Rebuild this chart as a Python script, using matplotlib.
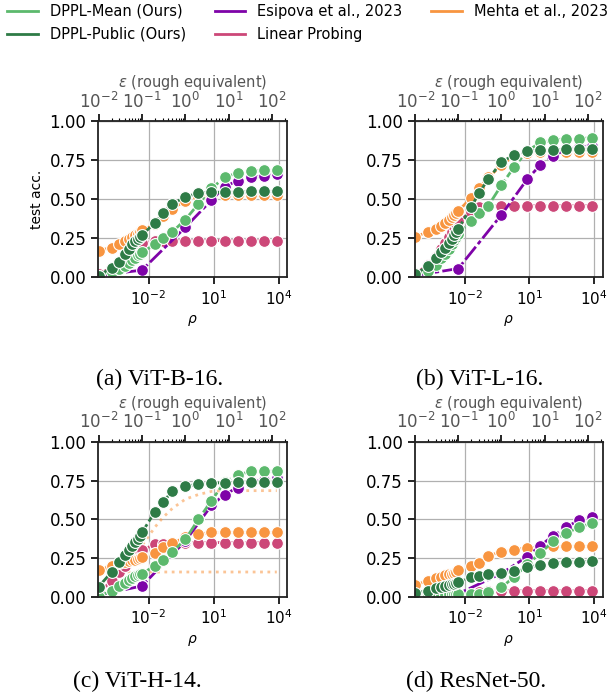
import numpy as np
import matplotlib
matplotlib.use("Agg")
import matplotlib.pyplot as plt
from matplotlib.lines import Line2D
from matplotlib.ticker import NullLocator, FixedLocator, LogLocator, LogFormatterSciNotation

# rho grid shared by most methods
rho = [5e-5, 2e-4, 4.5e-4, 8e-4, 1.25e-3, 1.8e-3, 2.45e-3, 3.2e-3, 4.05e-3, 5e-3,
       0.02, 0.045, 0.125, 0.5, 2, 8, 32, 128, 512, 2048, 8192]
# sparser grid for Esipova et al.
rho_esipova = [5e-5, 5e-3, 0.5, 8, 32, 128, 512, 2048, 8192]

names = ["DPPL-Mean (Ours)", "DPPL-Public (Ours)", "Esipova et al., 2023",
         "Linear Probing", "Mehta et al., 2023"]
colors = {"DPPL-Mean (Ours)": "#5cb96d", "DPPL-Public (Ours)": "#2e7b46",
          "Esipova et al., 2023": "#7e03a8", "Linear Probing": "#cc4778",
          "Mehta et al., 2023": "#f89540"}
captions = ["(a) ViT-B-16.", "(b) ViT-L-16.", "(c) ViT-H-14.", "(d) ResNet-50."]
eps_ticks = [1e-2, 1e-1, 1, 10, 100]

# (a) ViT-B-16
a_mean = [0.01, 0.03, 0.05, 0.07, 0.09, 0.11, 0.125, 0.14, 0.15, 0.16,
          0.21, 0.25, 0.29, 0.37, 0.47, 0.57, 0.64, 0.67, 0.68, 0.685, 0.685]
a_public = [0.01, 0.06, 0.10, 0.15, 0.18, 0.21, 0.23, 0.245, 0.255, 0.27,
            0.35, 0.41, 0.47, 0.515, 0.54, 0.545, 0.545, 0.545, 0.55, 0.55, 0.55]
a_esipova = [0.01, 0.045, 0.32, 0.495, 0.58, 0.62, 0.64, 0.65, 0.66]
a_linear = [0.02, 0.06, 0.10, 0.13, 0.16, 0.18, 0.20, 0.21, 0.215, 0.22,
            0.23, 0.235, 0.235, 0.235, 0.235, 0.235, 0.235, 0.235, 0.235, 0.235, 0.235]
a_mehta = [0.17, 0.19, 0.21, 0.23, 0.245, 0.26, 0.27, 0.28, 0.29, 0.30,
           0.34, 0.39, 0.44, 0.49, 0.515, 0.525, 0.525, 0.525, 0.525, 0.525, 0.525]

# (b) ViT-L-16
b_mean = [0.01, 0.04, 0.08, 0.12, 0.15, 0.18, 0.21, 0.24, 0.26, 0.28,
          0.36, 0.41, 0.46, 0.59, 0.71, 0.81, 0.865, 0.88, 0.89, 0.89, 0.895]
b_public = [0.02, 0.07, 0.12, 0.16, 0.19, 0.22, 0.245, 0.27, 0.29, 0.31,
            0.45, 0.54, 0.63, 0.74, 0.785, 0.81, 0.815, 0.815, 0.82, 0.82, 0.82]
b_esipova = [0.01, 0.055, 0.40, 0.63, 0.72, 0.78, 0.82, 0.835, 0.845]
b_linear = [0.02, 0.08, 0.13, 0.18, 0.22, 0.26, 0.29, 0.32, 0.34, 0.36,
            0.42, 0.45, 0.455, 0.46, 0.46, 0.46, 0.46, 0.46, 0.46, 0.46, 0.46]
b_mehta = [0.26, 0.29, 0.31, 0.33, 0.35, 0.37, 0.385, 0.40, 0.41, 0.425,
           0.51, 0.57, 0.64, 0.72, 0.78, 0.80, 0.805, 0.805, 0.805, 0.805, 0.805]

# (c) ViT-H-14
c_mean = [0.0, 0.04, 0.07, 0.09, 0.11, 0.12, 0.135, 0.14, 0.15, 0.15,
          0.20, 0.24, 0.29, 0.37, 0.50, 0.62, 0.74, 0.785, 0.81, 0.81, 0.81]
c_public = [0.065, 0.16, 0.225, 0.27, 0.30, 0.33, 0.355, 0.375, 0.395, 0.415,
            0.55, 0.61, 0.68, 0.715, 0.725, 0.735, 0.735, 0.74, 0.74, 0.74, 0.74]
c_esipova = [0.01, 0.07, 0.36, 0.59, 0.66, 0.705, 0.74, 0.755, 0.765]
c_linear = [0.03, 0.10, 0.16, 0.20, 0.23, 0.25, 0.27, 0.285, 0.295, 0.30,
            0.34, 0.34, 0.345, 0.35, 0.35, 0.35, 0.35, 0.35, 0.35, 0.35, 0.35]
c_mehta = [0.17, 0.20, 0.215, 0.225, 0.23, 0.235, 0.24, 0.245, 0.25, 0.255,
           0.285, 0.32, 0.345, 0.385, 0.405, 0.415, 0.415, 0.415, 0.415, 0.415, 0.415]
# extra Mehta et al. variants (dotted, ViT-H-14 only)
c_mehta_hi = [0.18, 0.20, 0.22, 0.24, 0.26, 0.28, 0.29, 0.30, 0.32, 0.33,
              0.45, 0.51, 0.57, 0.63, 0.66, 0.68, 0.685, 0.685, 0.685, 0.685, 0.685]
c_mehta_lo = [0.19, 0.17, 0.165, 0.16, 0.16, 0.16, 0.16, 0.16, 0.16, 0.16,
              0.16, 0.16, 0.16, 0.16, 0.16, 0.16, 0.16, 0.16, 0.16, 0.16, 0.16]

# (d) ResNet-50
d_mean = [0.01, 0.01, 0.012, 0.013, 0.014, 0.015, 0.016, 0.017, 0.018, 0.02,
          0.02, 0.02, 0.03, 0.06, 0.13, 0.21, 0.28, 0.36, 0.41, 0.45, 0.475]
d_public = [0.025, 0.04, 0.055, 0.065, 0.07, 0.075, 0.08, 0.085, 0.09, 0.095,
            0.125, 0.135, 0.145, 0.155, 0.165, 0.19, 0.205, 0.215, 0.225, 0.225, 0.23]
d_esipova = [0.0, 0.02, 0.15, 0.26, 0.33, 0.395, 0.45, 0.495, 0.515]
d_linear = [0.01, 0.012, 0.014, 0.015, 0.016, 0.017, 0.018, 0.019, 0.02, 0.02,
            0.025, 0.03, 0.035, 0.04, 0.04, 0.04, 0.04, 0.04, 0.04, 0.04, 0.04]
d_mehta = [0.075, 0.105, 0.12, 0.13, 0.14, 0.145, 0.15, 0.155, 0.16, 0.17,
           0.20, 0.22, 0.265, 0.29, 0.305, 0.315, 0.32, 0.325, 0.325, 0.325, 0.325]

panels = [
    {"DPPL-Mean (Ours)": a_mean, "DPPL-Public (Ours)": a_public, "Esipova et al., 2023": a_esipova,
     "Linear Probing": a_linear, "Mehta et al., 2023": a_mehta},
    {"DPPL-Mean (Ours)": b_mean, "DPPL-Public (Ours)": b_public, "Esipova et al., 2023": b_esipova,
     "Linear Probing": b_linear, "Mehta et al., 2023": b_mehta},
    {"DPPL-Mean (Ours)": c_mean, "DPPL-Public (Ours)": c_public, "Esipova et al., 2023": c_esipova,
     "Linear Probing": c_linear, "Mehta et al., 2023": c_mehta},
    {"DPPL-Mean (Ours)": d_mean, "DPPL-Public (Ours)": d_public, "Esipova et al., 2023": d_esipova,
     "Linear Probing": d_linear, "Mehta et al., 2023": d_mehta},
]
draw_order = ["Linear Probing", "Mehta et al., 2023", "Esipova et al., 2023",
              "DPPL-Mean (Ours)", "DPPL-Public (Ours)"]


def rho_to_eps(x):
    return np.sqrt(2 * np.clip(x, 1e-30, None))


def eps_to_rho(e):
    return np.asarray(e) ** 2 / 2


fig = plt.figure(figsize=(6.1, 6.98), dpi=100)
positions = [(0.161, 0.603, 0.310, 0.223), (0.680, 0.603, 0.308, 0.223),
             (0.161, 0.145, 0.310, 0.222), (0.680, 0.145, 0.308, 0.222)]
caption_xy = [(0.262, 0.457), (0.787, 0.457), (0.225, 0.024), (0.780, 0.024)]
gray = "#555555"
dash = (0, (6, 1.2, 1.5, 1.2))

for i, data in enumerate(panels):
    ax = fig.add_axes(positions[i])
    ax.set_xscale("log")
    ax.set_axisbelow(True)
    ax.grid(True, color="#b0b0b0", lw=0.9)

    if i == 2:
        for extra in (c_mehta_hi, c_mehta_lo):
            ax.plot(rho, extra, ls=":", lw=2, color=colors["Mehta et al., 2023"], alpha=0.55)

    for name in draw_order:
        x = rho_esipova if name == "Esipova et al., 2023" else rho
        ax.plot(x, data[name], ls=dash, lw=2, marker="o", ms=8.5,
                color=colors[name], mec="white", mew=0.8)

    ax.set_xlim(4.8e-5, 2.5e4)
    ax.set_ylim(0, 1)
    ax.xaxis.set_major_locator(FixedLocator([1e-2, 1e1, 1e4]))
    ax.xaxis.set_minor_locator(NullLocator())
    ax.set_yticks([0, 0.25, 0.5, 0.75, 1.0])
    ax.set_yticklabels(["0.00", "0.25", "0.50", "0.75", "1.00"])
    ax.tick_params(axis="y", labelsize=12, width=1.2, length=5)
    ax.tick_params(axis="x", labelsize=11, width=1.2, length=5)
    for s in ax.spines.values():
        s.set_linewidth(1.3)
        s.set_color("#222222")
    ax.set_xlabel(r"$\rho$", fontsize=10)
    if i == 0:
        ax.set_ylabel("test acc.", fontsize=10)

    sec = ax.secondary_xaxis("top", functions=(rho_to_eps, eps_to_rho))
    sec.xaxis.set_major_locator(FixedLocator(eps_ticks))
    sec.xaxis.set_major_formatter(LogFormatterSciNotation())
    sec.xaxis.set_minor_locator(LogLocator(base=10, subs=np.arange(2, 10), numticks=20))
    sec.tick_params(axis="x", which="major", labelsize=12, labelcolor=gray, pad=2,
                    width=1.2, length=5)
    sec.tick_params(axis="x", which="minor", width=0.8, length=2.5)
    sec.set_xlabel(r"$\varepsilon$ (rough equivalent)", fontsize=10.5, color=gray, labelpad=3)

    fig.text(caption_xy[i][0], caption_xy[i][1], captions[i], ha="center", va="center",
             fontsize=17, family="Liberation Serif")

handles = [Line2D([0], [0], color=colors[n], lw=2) for n in names]
fig.legend(handles, names, loc="upper left", bbox_to_anchor=(0.0, 1.005), ncol=3,
           frameon=False, fontsize=10.5, handlelength=2.1, handletextpad=0.8,
           columnspacing=2.0, labelspacing=0.55, borderaxespad=0.1)

plt.savefig("out.png", dpi=100)
plt.close()
